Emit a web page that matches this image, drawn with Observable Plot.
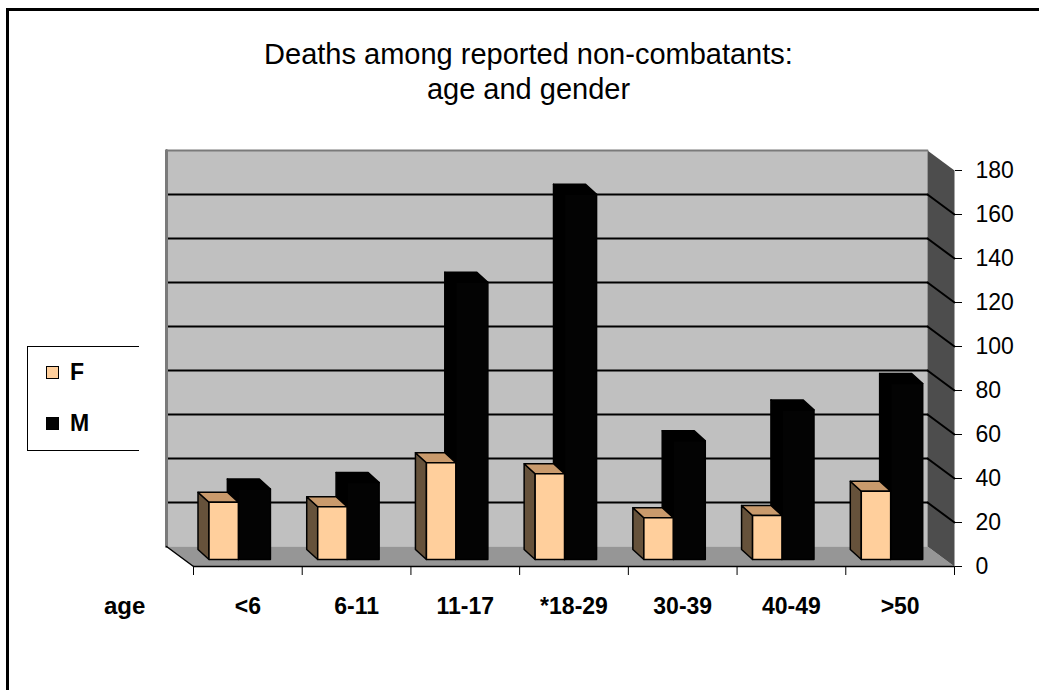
<!DOCTYPE html>
<html><head><meta charset="utf-8">
<script src="https://cdn.jsdelivr.net/npm/d3@7"></script>
<script src="https://cdn.jsdelivr.net/npm/@observablehq/plot@0.6"></script>
<style>
html,body{margin:0;padding:0;background:#fff;overflow:hidden;}
#wrap{position:relative;width:1039px;height:690px;font-family:"Liberation Sans",Arial,sans-serif;color:#000;}
#chart{position:absolute;left:0;top:0;}
#frame{position:absolute;left:6px;top:8px;width:1200px;height:900px;border:3px solid #000;pointer-events:none;}
#title{position:absolute;left:0;width:1057px;top:37px;text-align:center;font-size:29px;line-height:35px;}
#legend{position:absolute;left:27px;top:346px;width:112px;height:105px;border-left:1.5px solid #000;border-top:1.5px solid #000;border-bottom:1.5px solid #000;box-sizing:border-box;}
.sw{position:absolute;width:11px;height:11px;border:1.5px solid #000;}
.lt{position:absolute;font-weight:bold;font-size:23px;line-height:1;}
#agelab{position:absolute;left:104px;top:594px;font-weight:bold;font-size:24px;line-height:1;}
</style></head>
<body>
<div id="wrap">
  <div id="chart"></div>
  <div id="title">Deaths among reported non-combatants:<br>age and gender</div>
  <div id="legend"></div>
  <div id="agelab">age</div>
  <div id="frame"></div>
</div>
<script>
// ---- data ----
const ages = ["<6", "6-11", "11-17", "*18-29", "30-39", "40-49", ">50"];
const female = [26, 24, 44, 39, 19, 20, 31];
const male = [32, 35, 126, 166, 54, 68, 80];
const yTicks = [0, 20, 40, 60, 80, 100, 120, 140, 160, 180];
const gridValues = [20, 40, 60, 80, 100, 120, 140, 160];
const seriesNames = ["F", "M"];
const seriesColors = {F: {front: "#ffcf9c", top: "#c99a6c", side: "#66523b"}, M: {front: "#030303", top: "#000000", side: "#000000"}};

// ---- layout ----
const W = 1039, H = 690, ML = 193, MR = 85, MT = 170, MB = 124;
const N = ages.length, YMAX = 180;
const ux = (W - ML - MR) / N, uy = (H - MT - MB) / YMAX;
const WALL = [-27, -20], BF = [-9.5, -7], BB = [-20.5, -17], O = [0, 0];
const slot = {F: [0.23, 0.50], M: [0.50, 0.795]};
function P(xv, yv, off, id) { return {x: xv + off[0] / ux, y: yv - off[1] / uy, id}; }
function poly(id, pts) { const r = pts.map(p => P(p[0], p[1], p[2], id)); r.push(r[0]); return r; }

const backWall = poly("bw", [[0, 0, WALL], [N, 0, WALL], [N, YMAX, WALL], [0, YMAX, WALL]]);
const rightWall = poly("rw", [[N, 0, O], [N, YMAX, O], [N, YMAX, WALL], [N, 0, WALL]]);
const floor = poly("fl", [[0, 0, WALL], [N, 0, WALL], [N, 0, O], [0, 0, O]]);
const backGrid = gridValues.flatMap(v => [P(0, v, WALL, "g" + v), P(N, v, WALL, "g" + v)]);
const sideGrid = gridValues.flatMap(v => [P(N, v, WALL, "s" + v), P(N, v, O, "s" + v)]);
const leftEdge = [P(0, 0, WALL, "le"), P(0, YMAX, WALL, "le")];
const topEdge = [P(0, YMAX, WALL, "te"), P(N, YMAX, WALL, "te")];
const floorEdge = [P(0, 0, WALL, "fe"), P(0, 0, O, "fe")];

function barFaces(s, values) {
  const faces = {front: [], top: [], side: []};
  values.forEach((v, i) => {
    const a = i + slot[s][0], b = i + slot[s][1], id = s + i;
    faces.side.push(...poly(id, [[a, 0, BF], [a, v, BF], [a, v, BB], [a, 0, BB]]));
    faces.top.push(...poly(id, [[a, v, BF], [b, v, BF], [b, v, BB], [a, v, BB]]));
    faces.front.push(...poly(id, [[a, 0, BF], [b, 0, BF], [b, v, BF], [a, v, BF]]));
  });
  return faces;
}
const faces = {F: barFaces("F", female), M: barFaces("M", male)};

function barMarks(s) {
  const c = seriesColors[s], f = faces[s];
  return ["side", "top", "front"].map(k =>
    Plot.line(f[k], {x: "x", y: "y", z: "id", fill: c[k], stroke: "#000", strokeWidth: 1.5, strokeLinejoin: "round"}));
}

const plot = Plot.plot({
  width: W, height: H,
  marginLeft: ML, marginRight: MR, marginTop: MT, marginBottom: MB,
  style: {fontFamily: "'Liberation Sans', Arial, sans-serif", fontSize: "23px", background: "transparent", overflow: "visible"},
  x: {domain: [0, N], ticks: d3.range(0, N + 1), tickFormat: () => "", tickSize: 9, label: null},
  y: {domain: [0, YMAX], axis: "right", ticks: yTicks, tickSize: 7, tickPadding: 14, label: null},
  marks: [
    Plot.line(backWall, {x: "x", y: "y", z: "id", fill: "#c0c0c0", stroke: "none"}),
    Plot.line(floor, {x: "x", y: "y", z: "id", fill: "#969696", stroke: "none"}),
    Plot.line(rightWall, {x: "x", y: "y", z: "id", fill: "#4d4d4d", stroke: "none"}),
    Plot.line(backGrid, {x: "x", y: "y", z: "id", stroke: "#000", strokeWidth: 2}),
    Plot.line(sideGrid, {x: "x", y: "y", z: "id", stroke: "#000", strokeWidth: 2}),
    Plot.line(leftEdge, {x: "x", y: "y", z: "id", stroke: "#7a7a7a", strokeWidth: 3}),
    Plot.line(topEdge, {x: "x", y: "y", z: "id", stroke: "#7a7a7a", strokeWidth: 2}),
    Plot.line(floorEdge, {x: "x", y: "y", z: "id", stroke: "#000", strokeWidth: 1.5}),
    Plot.ruleY([0], {x1: 0, x2: N, stroke: "#000", strokeWidth: 1.5}),
    ...barMarks("M"),
    ...barMarks("F"),
    Plot.text(ages, {x: (d, i) => i + 0.5, y: 0, dy: 40, text: d => d, fontWeight: "bold", fontSize: 23})
  ]
});
document.getElementById("chart").appendChild(plot);

// legend
const lg = document.getElementById("legend");
seriesNames.forEach((s, k) => {
  const sw = document.createElement("div");
  sw.className = "sw";
  sw.style.left = "18px"; sw.style.top = (19 + k * 51) + "px";
  sw.style.background = seriesColors[s].front;
  lg.appendChild(sw);
  const t = document.createElement("div");
  t.className = "lt"; t.textContent = s;
  t.style.left = "42px"; t.style.top = (14 + k * 51) + "px";
  lg.appendChild(t);
});
</script>
</body></html>
